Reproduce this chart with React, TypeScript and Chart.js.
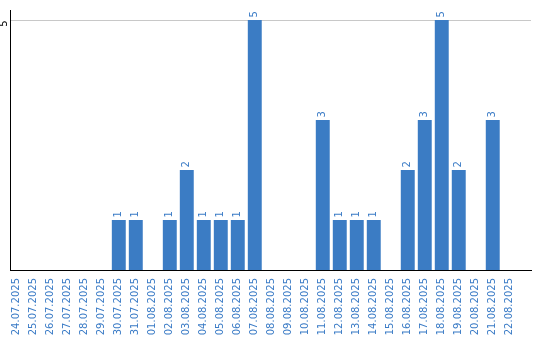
import React, { useEffect, useRef } from "react";
import { Chart, registerables } from "chart.js";

Chart.register(...registerables);

const dates: string[] = [
  "24.07.2025", "25.07.2025", "26.07.2025", "27.07.2025", "28.07.2025",
  "29.07.2025", "30.07.2025", "31.07.2025", "01.08.2025", "02.08.2025",
  "03.08.2025", "04.08.2025", "05.08.2025", "06.08.2025", "07.08.2025",
  "08.08.2025", "09.08.2025", "10.08.2025", "11.08.2025", "12.08.2025",
  "13.08.2025", "14.08.2025", "15.08.2025", "16.08.2025", "17.08.2025",
  "18.08.2025", "19.08.2025", "20.08.2025", "21.08.2025", "22.08.2025",
];

const counts: number[] = [
  0, 0, 0, 0, 0, 0, 1, 1, 0, 1,
  2, 1, 1, 1, 5, 0, 0, 0, 3, 1,
  1, 1, 0, 2, 3, 5, 2, 0, 3, 0,
];

const yTickValues: number[] = [5];

const BLUE = "#3b7cc4";
const TEXT_BLUE = "#3a7bc6";
const FONT = "DejaVu Sans";

const labelsPlugin = {
  id: "customLabels",
  afterDatasetsDraw(chart: any) {
    const ctx = chart.ctx;
    const meta = chart.getDatasetMeta(0);
    ctx.save();
    ctx.fillStyle = TEXT_BLUE;
    ctx.font = `10px "${FONT}"`;
    ctx.textBaseline = "middle";
    ctx.textAlign = "left";
    meta.data.forEach((bar: any, i: number) => {
      const v = counts[i];
      if (!v) return;
      ctx.save();
      ctx.translate(bar.x, bar.y - 2.5);
      ctx.rotate(-Math.PI / 2);
      ctx.fillText(String(v), 0, 0);
      ctx.restore();
    });
    const yScale = chart.scales.y;
    ctx.fillStyle = "#000000";
    ctx.textAlign = "right";
    yTickValues.forEach((t) => {
      const py = yScale.getPixelForValue(t);
      ctx.save();
      ctx.translate(4, py + 0.5);
      ctx.rotate(-Math.PI / 2);
      ctx.fillText(String(t), 0, 0);
      ctx.restore();
    });
    ctx.restore();
  },
};

export default function App() {
  const canvasRef = useRef<HTMLCanvasElement | null>(null);

  useEffect(() => {
    if (!canvasRef.current) return;
    const chart = new Chart(canvasRef.current, {
      type: "bar",
      data: {
        datasets: [
          {
            data: counts.map((c, i) => ({ x: i, y: c })),
            backgroundColor: BLUE,
            borderWidth: 0,
            barPercentage: 0.82,
            categoryPercentage: 1,
          },
        ],
      },
      options: {
        animation: false,
        responsive: true,
        maintainAspectRatio: false,
        layout: { padding: { left: 0, right: 9, top: 10, bottom: 0 } },
        plugins: {
          legend: { display: false },
          tooltip: { enabled: false },
        },
        scales: {
          x: {
            type: "linear",
            offset: false,
            min: -0.4,
            max: 30.25,
            afterBuildTicks: (s: any) => {
              s.ticks = dates.map((_, i) => ({ value: i }));
            },
            afterFit: (s: any) => {
              s.height = 70;
            },
            grid: { display: false, drawTicks: false },
            border: { display: true, color: "#000000", width: 1 },
            ticks: {
              autoSkip: false,
              minRotation: 90,
              maxRotation: 90,
              padding: 8,
              color: TEXT_BLUE,
              font: { family: FONT, size: 10 },
              callback: (v: any) => dates[Number(v)] ?? "",
            },
          },
          y: {
            min: 0,
            max: 5.2,
            afterBuildTicks: (s: any) => {
              s.ticks = yTickValues.map((v) => ({ value: v }));
            },
            afterFit: (s: any) => {
              s.width = 10;
            },
            grid: { color: "#c8c8c8", drawTicks: false, lineWidth: 1 },
            border: { display: true, color: "#000000", width: 1 },
            ticks: { display: false },
          },
        },
      },
      plugins: [labelsPlugin],
    });
    return () => chart.destroy();
  }, []);

  return (
    <div style={{ position: "fixed", left: 0, top: 0, width: 540, height: 340, background: "#ffffff" }}>
      <canvas ref={canvasRef} />
    </div>
  );
}
